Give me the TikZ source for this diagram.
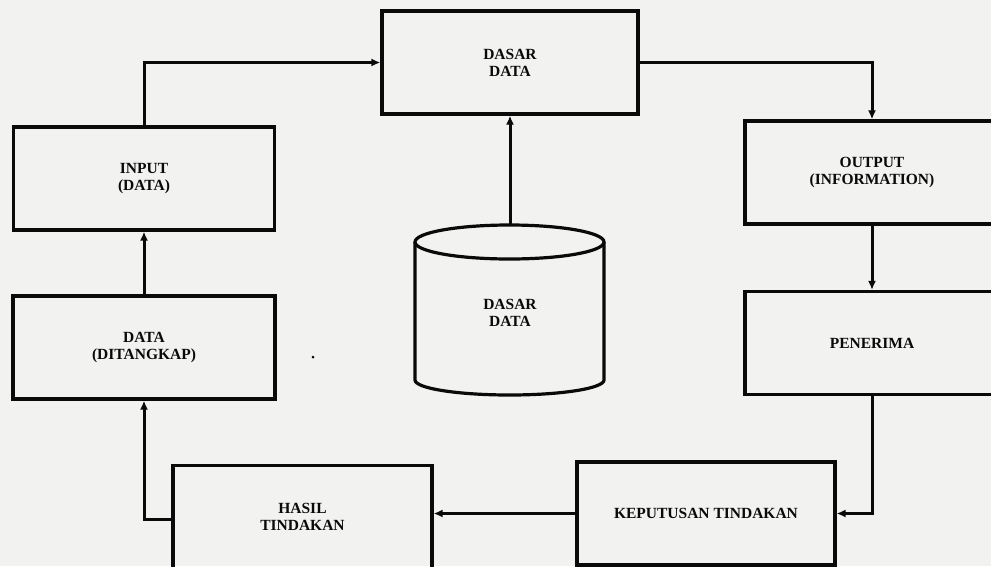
\documentclass[tikz,border=0pt]{standalone}
\usepackage{fontspec}
\setmainfont{Liberation Serif}
\usetikzlibrary{arrows.meta}
\definecolor{paper}{RGB}{242,242,241}
\definecolor{ink}{RGB}{10,10,10}
\begin{document}
\begin{tikzpicture}[x=1pt,y=-1pt,
  box/.style={draw=ink,line width=3.2pt,minimum width=#1,minimum height=103pt,inner sep=0pt,
    align=center,font=\fontsize{15.5}{17}\selectfont\bfseries,text=ink},
  box/.default=261pt,
  conn/.style={draw=ink,line width=3pt,-{Latex[length=9pt,width=8pt]}}]
\fill[paper] (0,0) rectangle (991,566);
\clip (0,0) rectangle (991,566);
% boxes
\node[box] (in)   at (144,178.5) {INPUT\\(DATA)};
\node[box=256pt] (db)   at (510,62.5) {DASAR\\DATA};
\node[box=254pt] (out)  at (872,172.5) {OUTPUT\\(INFORMATION)};
\node[box=254pt] (pen)  at (872,343) {PENERIMA};
\node[box=258pt] (kep)  at (706,513.5) {KEPUTUSAN TINDAKAN};
\node[box=259pt] (has)  at (302.5,517) {HASIL\\TINDAKAN};
\node[box=262pt] (dat)  at (144,347.5) {DATA\\(DITANGKAP)};
% cylinder
\draw[ink,line width=3.2pt] (415,242) -- (415,380)
  arc[start angle=180,end angle=0,x radius=94.5,y radius=15] -- (604,242);
\draw[ink,line width=3.2pt] (509.5,242) ellipse[x radius=94.5,y radius=17];
\node[font=\fontsize{15.5}{17}\selectfont\bfseries,align=center,text=ink] (cyl) at (510,313) {DASAR\\DATA};
\coordinate (cyltop) at (510,225);
% stray dot
\fill[ink] (313,357) circle[radius=1.5];
% connectors
\draw[conn] (in.north) |- (db.west);
\draw[conn] (db.east) -| (out.north);
\draw[conn] (out.south) -- (pen.north);
\draw[conn] (pen.south) |- (kep.east);
\draw[conn] (kep.west) -- (kep.west -| has.east);
\draw[conn] (has.west) ++(0,2) -| (dat.south);
\draw[conn] (dat.north) -- (in.south);
\draw[conn] (cyltop) -- (db.south);
\end{tikzpicture}
\end{document}
